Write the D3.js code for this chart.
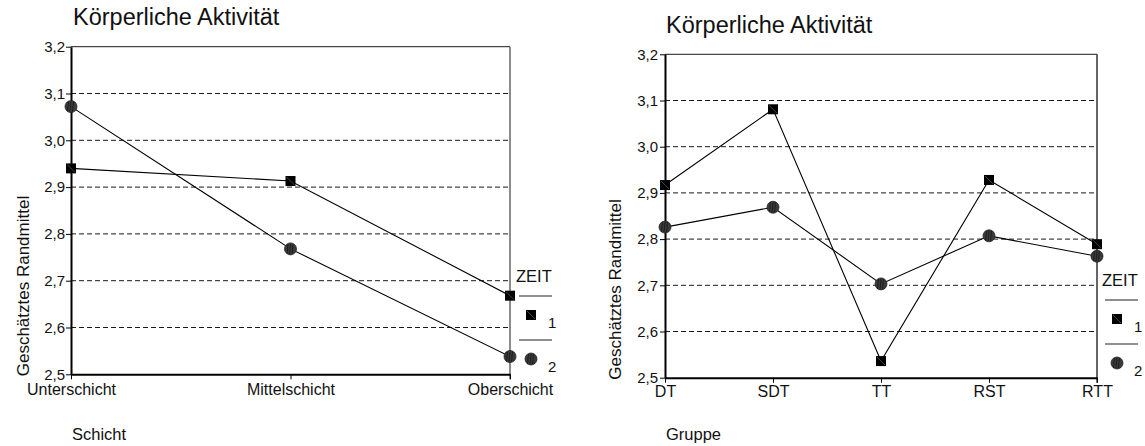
<!DOCTYPE html>
<html>
<head>
<meta charset="utf-8">
<script src="https://cdn.jsdelivr.net/npm/d3@7"></script>
<style>
  html, body { margin: 0; padding: 0; background: #fff; }
  svg { display: block; font-family: "Liberation Sans", Arial, sans-serif; }
</style>
</head>
<body>
<svg id="chart" width="1145" height="446"></svg>
<script>
// Estimated marginal means, physical activity, by social class and group
const titleText = "Körperliche Aktivität";
const yTitle = "Geschätztes Randmittel";
const legendTitle = "ZEIT";
const zeitLabels = ["1", "2"];
const yTicks = [2.5, 2.6, 2.7, 2.8, 2.9, 3.0, 3.1, 3.2];

const schichtCategories = ["Unterschicht", "Mittelschicht", "Oberschicht"];
const schichtZeit1 = [2.940, 2.913, 2.668];
const schichtZeit2 = [3.072, 2.768, 2.538];

const gruppeCategories = ["DT", "SDT", "TT", "RST", "RTT"];
const gruppeZeit1 = [2.917, 3.081, 2.536, 2.928, 2.789];
const gruppeZeit2 = [2.826, 2.869, 2.703, 2.807, 2.763];

const svg = d3.select("#chart");
const fmt = v => d3.format(".1f")(v).replace(".", ",");

function drawSquare(g, cx, cy) {
  g.append("rect").attr("x", cx - 5).attr("y", cy - 5).attr("width", 10).attr("height", 10)
    .attr("fill", "#000");
  g.append("line").attr("x1", cx - 4).attr("y1", cy - 4).attr("x2", cx + 4).attr("y2", cy + 4)
    .attr("stroke", "#555").attr("stroke-width", 0.8);
}
function drawCircle(g, cx, cy) {
  g.append("circle").attr("cx", cx).attr("cy", cy).attr("r", 6)
    .attr("fill", "#3a3a3a").attr("stroke", "#222").attr("stroke-width", 0.8);
  [-2.5, 0, 2.5].forEach(d => {
    g.append("line").attr("x1", cx + d).attr("y1", cy - 5).attr("x2", cx + d - 1).attr("y2", cy + 5)
      .attr("stroke", "#111").attr("stroke-width", 0.7);
  });
}

function panel(opt) {
  const g = svg.append("g");
  const x = d3.scalePoint().domain(opt.categories).range([opt.x0, opt.x1]).padding(0);
  const y = d3.scaleLinear().domain([2.5, 3.2]).range([opt.yBottom, opt.yTop]);

  // gridlines
  g.selectAll("line.grid").data(yTicks.slice(1)).join("line")
    .attr("class", "grid")
    .attr("x1", opt.x0).attr("x2", opt.x1)
    .attr("y1", d => y(d)).attr("y2", d => y(d))
    .attr("stroke", "#1a1a1a").attr("stroke-width", 1)
    .attr("stroke-dasharray", d => d === 3.2 ? null : "5,3");

  // right frame line
  g.append("line").attr("x1", opt.x1).attr("x2", opt.x1)
    .attr("y1", y(3.2)).attr("y2", y(2.5) + 5)
    .attr("stroke", opt.frameColor).attr("stroke-width", 1.5);

  // y axis
  const ya = g.append("g").attr("transform", `translate(${opt.x0},0)`)
    .call(d3.axisLeft(y).tickValues(yTicks).tickFormat(fmt).tickSize(5).tickSizeOuter(0).tickPadding(opt.yPad));
  ya.select(".domain").attr("stroke", "#000").attr("stroke-width", 2);
  ya.selectAll(".tick line").attr("stroke", "#000");
  ya.selectAll("text").attr("font-size", 15).attr("fill", "#111")
    .attr("font-family", "Liberation Sans, Arial, sans-serif");

  // x axis
  const xa = g.append("g").attr("transform", `translate(0,${opt.yBottom})`)
    .call(d3.axisBottom(x).tickSize(5).tickSizeOuter(0).tickPadding(opt.xPad));
  xa.select(".domain").attr("stroke", "#000").attr("stroke-width", 2);
  xa.selectAll(".tick line").attr("stroke", "#000");
  xa.selectAll("text").attr("font-size", 16).attr("fill", "#111")
    .attr("font-family", "Liberation Sans, Arial, sans-serif");

  // series lines
  const line = d3.line().x((d, i) => x(opt.categories[i])).y(d => y(d));
  [opt.zeit1, opt.zeit2].forEach(s => {
    g.append("path").attr("d", line(s)).attr("fill", "none")
      .attr("stroke", "#000").attr("stroke-width", 1.1);
  });
  opt.zeit2.forEach((v, i) => drawCircle(g, x(opt.categories[i]), y(v)));
  opt.zeit1.forEach((v, i) => drawSquare(g, x(opt.categories[i]), y(v)));

  // titles
  g.append("text").attr("x", opt.titleX).attr("y", opt.titleY)
    .attr("font-size", 23.5).attr("fill", "#111").text(titleText);
  g.append("text").attr("transform", `translate(${opt.yTitleX},${opt.yBottom + 2}) rotate(-90)`)
    .attr("font-size", 17).attr("fill", "#111").text(yTitle);
  g.append("text").attr("x", opt.x0 + 1).attr("y", 440)
    .attr("font-size", 16.5).attr("fill", "#111").text(opt.xTitle);

  // legend
  const L = opt.legend;
  g.append("text").attr("x", L.x).attr("y", L.y).attr("font-size", 16.5).attr("fill", "#111").text(legendTitle);
  [0, 1].forEach(k => {
    const ly = L.y + 14 + k * 44;
    g.append("line").attr("x1", L.x + 3).attr("x2", L.x + 36).attr("y1", ly).attr("y2", ly)
      .attr("stroke", "#222").attr("stroke-width", 1.2);
    const my = ly + 19;
    if (k === 0) drawSquare(g, L.x + 15, my); else drawCircle(g, L.x + 15, my);
    g.append("text").attr("x", L.x + 32).attr("y", my + 13).attr("font-size", 15)
      .attr("fill", "#111").text(zeitLabels[k]);
  });
}

panel({
  categories: schichtCategories, zeit1: schichtZeit1, zeit2: schichtZeit2,
  x0: 71, x1: 510, yTop: 46.7, yBottom: 374.3, yPad: 1, xPad: 4,
  frameColor: "#666", titleX: 73, titleY: 25, yTitleX: 29, xTitle: "Schicht",
  legend: { x: 516, y: 282 }
});

panel({
  categories: gruppeCategories, zeit1: gruppeZeit1, zeit2: gruppeZeit2,
  x0: 665, x1: 1097, yTop: 54.3, yBottom: 377.7, yPad: 2, xPad: 3,
  frameColor: "#333", titleX: 666, titleY: 33, yTitleX: 621, xTitle: "Gruppe",
  legend: { x: 1102, y: 286 }
});
</script>
</body>
</html>
